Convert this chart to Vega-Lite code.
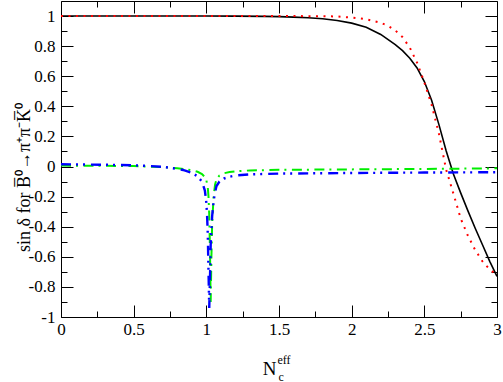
{
  "$schema": "https://vega.github.io/schema/vega-lite/v6.json",
  "width": 436,
  "height": 316,
  "autosize": {"type": "none"},
  "padding": {"left": 61, "top": 1, "right": 6, "bottom": 65},
  "background": "#ffffff",
  "config": {
    "view": {"stroke": "#000000", "strokeWidth": 1},
    "axis": {
      "domain": false,
      "grid": false,
      "tickColor": "#000000",
      "tickWidth": 1,
      "labelFont": "Liberation Serif",
      "labelFontSize": 17,
      "labelColor": "#000000",
      "titleFont": "Liberation Serif",
      "titleColor": "#000000",
      "titleFontWeight": "normal",
      "labelFlush": false
    }
  },
  "data": {
    "values": [
      {"s": "black", "x": 0, "y": 1},
      {"s": "black", "x": 0.5, "y": 1},
      {"s": "black", "x": 1.0, "y": 1},
      {"s": "black", "x": 1.2, "y": 0.9995},
      {"s": "black", "x": 1.4, "y": 0.998},
      {"s": "black", "x": 1.5, "y": 0.996},
      {"s": "black", "x": 1.6, "y": 0.993},
      {"s": "black", "x": 1.7, "y": 0.989},
      {"s": "black", "x": 1.8, "y": 0.982},
      {"s": "black", "x": 1.9, "y": 0.97},
      {"s": "black", "x": 2.0, "y": 0.953},
      {"s": "black", "x": 2.1, "y": 0.925},
      {"s": "black", "x": 2.2, "y": 0.878},
      {"s": "black", "x": 2.3, "y": 0.81},
      {"s": "black", "x": 2.35, "y": 0.77},
      {"s": "black", "x": 2.4, "y": 0.72},
      {"s": "black", "x": 2.45, "y": 0.655},
      {"s": "black", "x": 2.5, "y": 0.565},
      {"s": "black", "x": 2.55, "y": 0.44},
      {"s": "black", "x": 2.6, "y": 0.28},
      {"s": "black", "x": 2.65, "y": 0.105},
      {"s": "black", "x": 2.7, "y": -0.05},
      {"s": "black", "x": 2.75, "y": -0.175},
      {"s": "black", "x": 2.8, "y": -0.295},
      {"s": "black", "x": 2.85, "y": -0.41},
      {"s": "black", "x": 2.9, "y": -0.52},
      {"s": "black", "x": 2.95, "y": -0.63},
      {"s": "black", "x": 3.0, "y": -0.73},

      {"s": "red", "x": 0, "y": 1},
      {"s": "red", "x": 1.0, "y": 1},
      {"s": "red", "x": 1.5, "y": 1},
      {"s": "red", "x": 1.8, "y": 0.999},
      {"s": "red", "x": 1.9, "y": 0.997},
      {"s": "red", "x": 2.0, "y": 0.99},
      {"s": "red", "x": 2.1, "y": 0.979},
      {"s": "red", "x": 2.2, "y": 0.955},
      {"s": "red", "x": 2.25, "y": 0.935},
      {"s": "red", "x": 2.3, "y": 0.905},
      {"s": "red", "x": 2.35, "y": 0.86},
      {"s": "red", "x": 2.4, "y": 0.79},
      {"s": "red", "x": 2.45, "y": 0.69},
      {"s": "red", "x": 2.5, "y": 0.56},
      {"s": "red", "x": 2.55, "y": 0.41},
      {"s": "red", "x": 2.6, "y": 0.22},
      {"s": "red", "x": 2.65, "y": -0.02},
      {"s": "red", "x": 2.7, "y": -0.18},
      {"s": "red", "x": 2.75, "y": -0.345},
      {"s": "red", "x": 2.8, "y": -0.46},
      {"s": "red", "x": 2.85, "y": -0.555},
      {"s": "red", "x": 2.9, "y": -0.63},
      {"s": "red", "x": 2.95, "y": -0.685},
      {"s": "red", "x": 3.0, "y": -0.72},

      {"s": "green", "x": 0, "y": 0.006},
      {"s": "green", "x": 0.3, "y": 0.005},
      {"s": "green", "x": 0.5, "y": 0.003},
      {"s": "green", "x": 0.6, "y": 0.0},
      {"s": "green", "x": 0.7, "y": -0.004},
      {"s": "green", "x": 0.8, "y": -0.011},
      {"s": "green", "x": 0.85, "y": -0.017},
      {"s": "green", "x": 0.9, "y": -0.025},
      {"s": "green", "x": 0.94, "y": -0.035},
      {"s": "green", "x": 0.97, "y": -0.05},
      {"s": "green", "x": 0.99, "y": -0.07},
      {"s": "green", "x": 1.0, "y": -0.09},
      {"s": "green", "x": 1.01, "y": -0.14},
      {"s": "green", "x": 1.015, "y": -0.2},
      {"s": "green", "x": 1.02, "y": -0.32},
      {"s": "green", "x": 1.025, "y": -0.55},
      {"s": "green", "x": 1.03, "y": -0.9},
      {"s": "green", "x": 1.035, "y": -0.6},
      {"s": "green", "x": 1.04, "y": -0.38},
      {"s": "green", "x": 1.05, "y": -0.2},
      {"s": "green", "x": 1.06, "y": -0.12},
      {"s": "green", "x": 1.07, "y": -0.085},
      {"s": "green", "x": 1.09, "y": -0.06},
      {"s": "green", "x": 1.12, "y": -0.045},
      {"s": "green", "x": 1.16, "y": -0.037},
      {"s": "green", "x": 1.2, "y": -0.032},
      {"s": "green", "x": 1.3, "y": -0.026},
      {"s": "green", "x": 1.5, "y": -0.022},
      {"s": "green", "x": 2.0, "y": -0.019},
      {"s": "green", "x": 2.5, "y": -0.016},
      {"s": "green", "x": 3.0, "y": -0.012},

      {"s": "blue", "x": 0, "y": 0.015},
      {"s": "blue", "x": 0.3, "y": 0.012},
      {"s": "blue", "x": 0.5, "y": 0.008},
      {"s": "blue", "x": 0.6, "y": 0.004},
      {"s": "blue", "x": 0.7, "y": -0.002},
      {"s": "blue", "x": 0.8, "y": -0.015},
      {"s": "blue", "x": 0.85, "y": -0.025},
      {"s": "blue", "x": 0.9, "y": -0.042},
      {"s": "blue", "x": 0.94, "y": -0.065},
      {"s": "blue", "x": 0.97, "y": -0.1},
      {"s": "blue", "x": 0.99, "y": -0.16},
      {"s": "blue", "x": 1.0, "y": -0.24},
      {"s": "blue", "x": 1.005, "y": -0.32},
      {"s": "blue", "x": 1.01, "y": -0.45},
      {"s": "blue", "x": 1.015, "y": -0.7},
      {"s": "blue", "x": 1.02, "y": -0.94},
      {"s": "blue", "x": 1.025, "y": -0.75},
      {"s": "blue", "x": 1.03, "y": -0.52},
      {"s": "blue", "x": 1.04, "y": -0.33},
      {"s": "blue", "x": 1.05, "y": -0.23},
      {"s": "blue", "x": 1.06, "y": -0.17},
      {"s": "blue", "x": 1.07, "y": -0.13},
      {"s": "blue", "x": 1.09, "y": -0.1},
      {"s": "blue", "x": 1.12, "y": -0.08},
      {"s": "blue", "x": 1.16, "y": -0.068},
      {"s": "blue", "x": 1.2, "y": -0.06},
      {"s": "blue", "x": 1.3, "y": -0.052},
      {"s": "blue", "x": 1.5, "y": -0.047},
      {"s": "blue", "x": 2.0, "y": -0.043},
      {"s": "blue", "x": 2.5, "y": -0.04},
      {"s": "blue", "x": 3.0, "y": -0.038}
    ]
  },
  "resolve": {"axis": {"x": "independent", "y": "independent"}},
  "layer": [
    {
      "transform": [{"filter": "datum.s == 'black'"}],
      "mark": {"type": "line", "color": "#000000", "strokeWidth": 1.6},
      "encoding": {
        "x": {
          "field": "x", "type": "quantitative",
          "scale": {"domain": [0, 3], "nice": false, "zero": false},
          "axis": {
            "orient": "bottom", "values": [0, 0.5, 1, 1.5, 2, 2.5, 3], "format": ".1~f",
            "tickSize": -12, "labelPadding": 16,
            "title": "N", "titleFontSize": 19, "titleX": 208, "titleY": 57,
            "titleAlign": "center", "titleBaseline": "alphabetic"
          }
        },
        "y": {
          "field": "y", "type": "quantitative",
          "scale": {"domain": [-1, 1.1], "nice": false, "zero": false},
          "axis": {
            "orient": "left", "values": [-1, -0.8, -0.6, -0.4, -0.2, 0, 0.2, 0.4, 0.6, 0.8, 1],
            "format": ".1~f", "labelExpr": "replace(datum.label, '−', '-')",
            "tickSize": -12, "labelPadding": 18,
            "title": "sin δ  for B̅⁰→π⁺π⁻K̅⁰", "titleFontSize": 18,
            "titleX": -32, "titleY": 176, "titleAlign": "center", "titleBaseline": "alphabetic"
          }
        }
      }
    },
    {
      "transform": [{"filter": "datum.s == 'red'"}],
      "mark": {"type": "line", "color": "#ff0000", "strokeWidth": 2, "strokeDash": [2, 5.5]},
      "encoding": {
        "x": {
          "field": "x", "type": "quantitative",
          "scale": {"domain": [0, 3], "nice": false, "zero": false},
          "axis": {"orient": "bottom", "values": [0.25, 0.75, 1.25, 1.75, 2.25, 2.75], "tickSize": -6, "labels": false, "title": null}
        },
        "y": {
          "field": "y", "type": "quantitative",
          "scale": {"domain": [-1, 1.1], "nice": false, "zero": false},
          "axis": {"orient": "left", "values": [-0.9, -0.7, -0.5, -0.3, -0.1, 0.1, 0.3, 0.5, 0.7, 0.9], "tickSize": -6, "labels": false, "title": null}
        }
      }
    },
    {
      "transform": [{"filter": "datum.s == 'green'"}],
      "mark": {"type": "line", "color": "#00ee00", "strokeWidth": 2, "strokeDash": [10, 5, 2, 5.5]},
      "encoding": {
        "x": {
          "field": "x", "type": "quantitative",
          "scale": {"domain": [0, 3], "nice": false, "zero": false},
          "axis": {"orient": "top", "values": [0, 0.5, 1, 1.5, 2, 2.5, 3], "tickSize": -12, "labels": false, "title": null}
        },
        "y": {
          "field": "y", "type": "quantitative",
          "scale": {"domain": [-1, 1.1], "nice": false, "zero": false},
          "axis": {"orient": "right", "values": [-1, -0.8, -0.6, -0.4, -0.2, 0, 0.2, 0.4, 0.6, 0.8, 1], "tickSize": -12, "labels": false, "title": null}
        }
      }
    },
    {
      "transform": [{"filter": "datum.s == 'blue'"}],
      "mark": {"type": "line", "color": "#0000ff", "strokeWidth": 2.4, "strokeDash": [10, 5, 2, 5, 2, 6]},
      "encoding": {
        "x": {
          "field": "x", "type": "quantitative",
          "scale": {"domain": [0, 3], "nice": false, "zero": false},
          "axis": {"orient": "top", "values": [0.25, 0.75, 1.25, 1.75, 2.25, 2.75], "tickSize": -6, "labels": false, "title": null}
        },
        "y": {
          "field": "y", "type": "quantitative",
          "scale": {"domain": [-1, 1.1], "nice": false, "zero": false},
          "axis": {"orient": "right", "values": [-0.9, -0.7, -0.5, -0.3, -0.1, 0.1, 0.3, 0.5, 0.7, 0.9], "tickSize": -6, "labels": false, "title": null}
        }
      }
    },
    {
      "transform": [{"filter": "datum.s == 'black'"}],
      "mark": {"type": "point", "opacity": 0},
      "encoding": {
        "x": {
          "field": "x", "type": "quantitative",
          "scale": {"domain": [0, 3], "nice": false, "zero": false},
          "axis": {"orient": "bottom", "ticks": false, "labels": false, "title": "c", "titleFontSize": 12,
                   "titleX": 217, "titleY": 63, "titleAlign": "left", "titleBaseline": "alphabetic"}
        },
        "y": {
          "field": "y", "type": "quantitative",
          "scale": {"domain": [-1, 1.1], "nice": false, "zero": false},
          "axis": null
        }
      }
    },
    {
      "transform": [{"filter": "datum.s == 'black'"}],
      "mark": {"type": "point", "opacity": 0},
      "encoding": {
        "x": {
          "field": "x", "type": "quantitative",
          "scale": {"domain": [0, 3], "nice": false, "zero": false},
          "axis": {"orient": "bottom", "ticks": false, "labels": false, "title": "eff", "titleFontSize": 12,
                   "titleX": 216, "titleY": 46, "titleAlign": "left", "titleBaseline": "alphabetic"}
        },
        "y": {
          "field": "y", "type": "quantitative",
          "scale": {"domain": [-1, 1.1], "nice": false, "zero": false},
          "axis": null
        }
      }
    }
  ]
}
